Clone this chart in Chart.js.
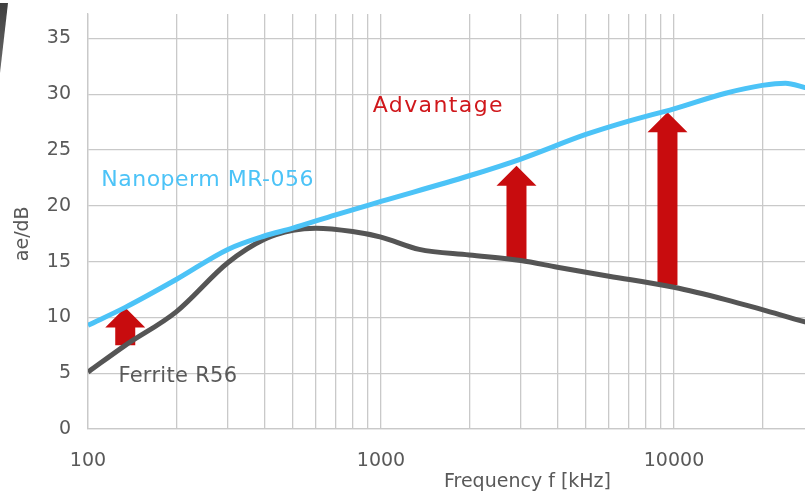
<!DOCTYPE html>
<html>
<head>
<meta charset="utf-8">
<script src="https://cdn.jsdelivr.net/npm/chart.js@4/dist/chart.umd.min.js"></script>
<style>
  html, body { margin: 0; padding: 0; background: #fff; width: 805px; height: 494px; overflow: hidden; }
  #wrap { position: absolute; left: 0; top: 0; width: 1005px; height: 494px; }
</style>
</head>
<body>
<div id="wrap"><canvas id="c"></canvas></div>
<script>
// ---- data ----
const nanopermFreq = [100, 134, 200, 300, 400, 500, 700, 1000, 2000, 3000, 5000, 7000, 10000, 15000, 20000, 24000, 28000, 30000];
const nanopermDb   = [9.3, 10.9, 13.4, 16.1, 17.3, 18.0, 19.2, 20.4, 22.7, 24.2, 26.4, 27.6, 28.7, 30.1, 30.8, 31.0, 30.6, 30.4];

const ferriteFreq = [100, 134, 200, 300, 400, 500, 600, 800, 1000, 1350, 2000, 3000, 4000, 6000, 10000, 15000, 20000, 28000, 30000];
const ferriteDb   = [5.1, 7.5, 10.5, 14.9, 17.0, 17.8, 18.0, 17.7, 17.2, 16.1, 15.6, 15.1, 14.5, 13.7, 12.7, 11.6, 10.7, 9.6, 9.4];

// "Advantage" arrows: frequency, from (ferrite) dB, to (nanoperm) dB
const arrowFreq = [134, 2900, 9500];
const arrowFrom = [7.5, 15.2, 12.9];
const arrowTo   = [10.9, 23.6, 28.4];

// x grid / tick values and the labelled ones
const xTickValues = [100, 200, 300, 400, 500, 600, 700, 800, 900,
                     1000, 2000, 3000, 4000, 5000, 6000, 7000, 8000, 9000,
                     10000, 20000, 30000, 40000, 50000, 60000, 70000, 80000, 90000, 100000];
const xTickLabels = [100, 1000, 10000];
const yTickValues = [0, 5, 10, 15, 20, 25, 30, 35];

// text annotations: text, anchor frequency (left edge), anchor dB (middle)
const labelTexts = ['Nanoperm MR-056', 'Advantage', 'Ferrite R56'];
const labelFreq  = [111, 937, 127];
const labelDb    = [22.3, 28.9, 4.7];

// ---- styles ----
const FONT = 'DejaVu Sans';
const GRID = '#c9c9c9';
const TXT = '#595959';
const BLUE = '#4cc3f7';
const DARK = '#555555';
const RED = '#c80c0e';
const labelColors = [BLUE, '#d0181c', TXT];
const labelSpacing = ['0.5px', '1.4px', '0.3px'];
const labelSize = [22, 22, 21];

const toPts = (xs, ys) => xs.map((x, i) => ({ x, y: ys[i] }));

const decoPlugin = {
  id: 'deco',
  beforeDraw(chart) {
    const c = chart.ctx;
    c.save();
    const g = c.createLinearGradient(0, 0, 8, 70);
    g.addColorStop(0, '#3c3c3c');
    g.addColorStop(1, '#6a6a6a');
    c.fillStyle = g;
    c.beginPath();
    c.moveTo(0, 3); c.lineTo(8, 3); c.lineTo(0, 73); c.closePath();
    c.fill();
    c.restore();
  }
};

const arrowPlugin = {
  id: 'arrows',
  beforeDatasetsDraw(chart) {
    const c = chart.ctx, xs = chart.scales.x, ys = chart.scales.y;
    c.save();
    c.fillStyle = RED;
    arrowFreq.forEach((f, i) => {
      const cx = xs.getPixelForValue(f);
      const yb = ys.getPixelForValue(arrowFrom[i]);
      const yt = ys.getPixelForValue(arrowTo[i]);
      const sw = 10, hw = 20, hh = 20;
      c.beginPath();
      c.moveTo(cx, yt);
      c.lineTo(cx + hw, yt + hh);
      c.lineTo(cx + sw, yt + hh);
      c.lineTo(cx + sw, yb);
      c.lineTo(cx - sw, yb);
      c.lineTo(cx - sw, yt + hh);
      c.lineTo(cx - hw, yt + hh);
      c.closePath();
      c.fill();
    });
    c.restore();
  },
  afterDatasetsDraw(chart) {
    const c = chart.ctx, xs = chart.scales.x, ys = chart.scales.y;
    c.save();
    c.textBaseline = 'middle';
    c.textAlign = 'left';
    labelTexts.forEach((t, i) => {
      c.font = labelSize[i] + 'px "' + FONT + '"';
      c.fillStyle = labelColors[i];
      try { c.letterSpacing = labelSpacing[i]; } catch (e) {}
      c.fillText(t, xs.getPixelForValue(labelFreq[i]), ys.getPixelForValue(labelDb[i]));
    });
    try { c.letterSpacing = '0px'; } catch (e) {}
    // y-axis title, centred on the 0..35 range
    const ty = (ys.getPixelForValue(yTickValues[0]) + ys.getPixelForValue(yTickValues[yTickValues.length - 1])) / 2;
    c.translate(23, ty);
    c.rotate(-Math.PI / 2);
    c.textAlign = 'center';
    c.font = '19px "' + FONT + '"';
    c.fillStyle = TXT;
    c.fillText('ae/dB', 0, 0);
    c.restore();
  }
};

new Chart(document.getElementById('c'), {
  type: 'line',
  data: {
    datasets: [
      { label: 'Nanoperm MR-056', data: toPts(nanopermFreq, nanopermDb), borderColor: BLUE, borderWidth: 5,
        pointRadius: 0, fill: false, cubicInterpolationMode: 'monotone' },
      { label: 'Ferrite R56', data: toPts(ferriteFreq, ferriteDb), borderColor: DARK, borderWidth: 5,
        pointRadius: 0, fill: false, cubicInterpolationMode: 'monotone' }
    ]
  },
  options: {
    responsive: true,
    maintainAspectRatio: false,
    animation: false,
    events: [],
    layout: { padding: { top: 14, left: 0, right: 38, bottom: 0 } },
    plugins: { legend: { display: false }, tooltip: { enabled: false } },
    scales: {
      x: {
        type: 'logarithmic',
        min: 100, max: 100000,
        afterBuildTicks: s => { s.ticks = xTickValues.map(v => ({ value: v })); },
        afterFit: s => { s.height = 65; s.paddingLeft = 0; s.paddingRight = 0; },
        ticks: {
          autoSkip: false, maxRotation: 0, minRotation: 0,
          callback: v => xTickLabels.includes(v) ? String(v) : '',
          color: TXT, font: { family: FONT, size: 19 }, padding: 21
        },
        grid: { color: GRID, lineWidth: 1.3, drawTicks: false },
        border: { color: GRID, width: 1.3 },
        title: { display: true, text: 'Frequency f [kHz]', color: TXT,
                 font: { family: FONT, size: 19 }, padding: { top: 0, bottom: 1 } }
      },
      y: {
        min: 0, max: 37.2,
        afterBuildTicks: s => { s.ticks = yTickValues.map(v => ({ value: v })); },
        afterFit: s => { s.width = 88; s.paddingTop = 0; s.paddingBottom = 0; },
        ticks: { color: TXT, font: { family: FONT, size: 19 }, padding: 17 },
        grid: { color: GRID, lineWidth: 1.3, drawTicks: false },
        border: { color: GRID, width: 1.3 }
      }
    }
  },
  plugins: [decoPlugin, arrowPlugin]
});
</script>
</body>
</html>
